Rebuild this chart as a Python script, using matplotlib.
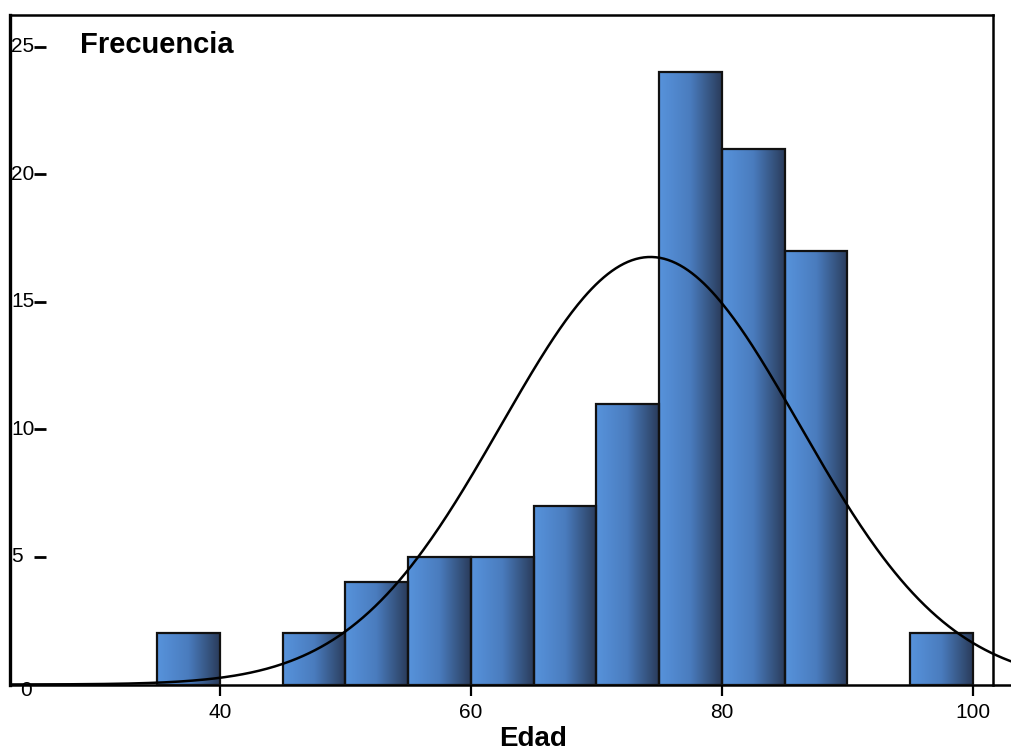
import numpy as np
import matplotlib
matplotlib.use("Agg")
import matplotlib.pyplot as plt
from matplotlib.colors import LinearSegmentedColormap
from matplotlib.transforms import blended_transform_factory

plt.rcParams['font.family'] = ['Liberation Sans', 'DejaVu Sans']

# ---- data ----
bin_starts = [35, 45, 50, 55, 60, 65, 70, 75, 80, 85, 95]
counts = [2, 2, 4, 5, 5, 7, 11, 24, 21, 17, 2]
bin_width = 5
mean_age = 74.3
sd_age = 11.9
x_ticks = [40, 60, 80, 100]
y_ticks = [0, 5, 10, 15, 20, 25]
x_label = "Edad"
y_label = "Frecuencia"

W, H = 1011, 752
fig = plt.figure(figsize=(W / 100, H / 100), dpi=100)
ax_left, ax_right, ax_top, ax_bottom = 10, 1011, 15, 684.5
ax = fig.add_axes([ax_left / W, (H - ax_bottom) / H,
                   (ax_right - ax_left) / W, (ax_bottom - ax_top) / H])

x_min, x_max = 23.27, 103.03
y_min, y_max = 0, 26.25

cmap = LinearSegmentedColormap.from_list(
    "bar_grad", ["#5793dc", "#4a7cbe", "#2a3c5b"])
grad = np.linspace(0, 1, 256).reshape(1, -1)
for x0, c in zip(bin_starts, counts):
    ax.imshow(grad, cmap=cmap, extent=(x0, x0 + bin_width, 0, c),
              aspect='auto', zorder=2, interpolation='bilinear')

ax.bar(bin_starts, counts, width=bin_width, align='edge', fill=False,
       edgecolor='#111111', linewidth=1.6, zorder=3)

n_total = sum(counts)
xs = np.linspace(x_min, x_max, 500)
ys = n_total * bin_width * np.exp(-0.5 * ((xs - mean_age) / sd_age) ** 2) / (sd_age * np.sqrt(2 * np.pi))
ax.plot(xs, ys, color='black', lw=1.8, zorder=4)

ax.set_xlim(x_min, x_max)
ax.set_ylim(y_min, y_max)

for s in ['top', 'right']:
    ax.spines[s].set_visible(False)
ax.spines['left'].set_linewidth(2.4)
ax.spines['bottom'].set_linewidth(1.8)

# frame top and right line
xr = (993 - ax_left) / (ax_right - ax_left)
ax.plot([0, xr], [1, 1], transform=ax.transAxes, color='black', lw=1.8,
        clip_on=False, zorder=5)
ax.plot([xr, xr], [0, 1], transform=ax.transAxes, color='black', lw=1.8,
        clip_on=False, zorder=5)

ax.set_xticks(x_ticks)
ax.set_xticklabels([str(t) for t in x_ticks])
ax.tick_params(axis='x', direction='out', length=8, width=1.6,
               labelsize=15, pad=5)
ax.set_yticks([])

trans = blended_transform_factory(ax.transAxes, ax.transData)
span = ax_right - ax_left
for v in y_ticks:
    if v == 0:
        ax.text(16 / span, -0.22, str(v), transform=trans, ha='center',
                va='center', fontsize=15, zorder=6)
    else:
        ax.text(1.5 / span, v, str(v), transform=trans, ha='left',
                va='center', fontsize=15, zorder=6)
        ax.plot([24 / span, 36 / span], [v, v], transform=trans,
                color='black', lw=2.0, zorder=6, solid_capstyle='butt')

fig.text(80 / W, 1 - 45 / H, y_label, fontsize=21, fontweight='bold',
         ha='left', va='center')
fig.text(533 / W, 1 - 739 / H, x_label, fontsize=20, fontweight='bold',
         ha='center', va='center')

fig.savefig("out.png", dpi=100)
